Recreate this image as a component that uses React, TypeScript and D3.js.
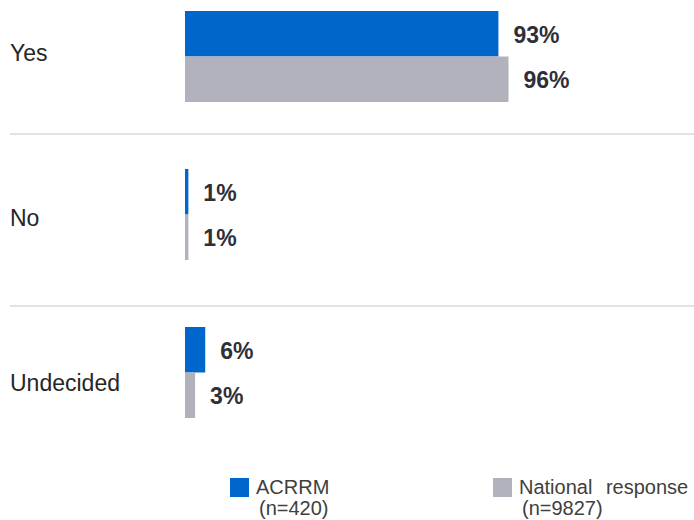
import React from 'react'
import * as d3 from 'd3'

const CATEGORIES = ['Yes', 'No', 'Undecided']
const ACRRM = [93, 1, 6]
const NATIONAL = [96, 1, 3]
const SERIES = [
  { name: 'ACRRM', sub: '(n=420)', values: ACRRM, color: '#0066cc' },
  { name: 'National response', sub: '(n=9827)', values: NATIONAL, color: '#b2b2bc' },
]

const W = 694
const H = 520
const FONT = '"Liberation Sans", Arial, sans-serif'

export default function App() {
  const x = d3.scaleLinear().domain([0, 100]).range([185, 522])

  // bar groups
  const group = d3.scaleBand<string>().domain(CATEGORIES).range([11, 418]).paddingInner(0.424)
  const inner = d3
    .scaleBand<string>()
    .domain(SERIES.map((s) => s.name))
    .range([0, group.bandwidth()])

  // rows separated by thin rules
  const row = d3.scaleLinear().domain([0, CATEGORIES.length]).range([-38, 478])

  const legendX = d3.scalePoint<string>().domain(SERIES.map((s) => s.name)).range([230, 493])

  return (
    <svg
      width={W}
      height={H}
      style={{ position: 'absolute', left: 0, top: 0, background: '#fff' }}
      fontFamily={FONT}
    >
      {/* separators */}
      {d3.range(1, CATEGORIES.length).map((i) => (
        <line key={i} x1={10} x2={W} y1={row(i)} y2={row(i)} stroke="#d9d9d9" strokeWidth={1.5} />
      ))}

      {CATEGORIES.map((c, i) => {
        const gy = group(c)!
        const labelY = (gy + group.bandwidth() / 2 + (row(i) + row(i + 1)) / 2) / 2
        return (
          <g key={c}>
            <text x={10} y={labelY + 1} dy="0.35em" fontSize={23} fill="#262626">
              {c}
            </text>
            {SERIES.map((s) => {
              const v = s.values[i]
              const by = gy + inner(s.name)!
              return (
                <g key={s.name}>
                  <rect
                    x={x(0)}
                    y={by}
                    width={x(v) - x(0)}
                    height={inner.bandwidth()}
                    fill={s.color}
                  />
                  <text
                    x={x(v) + 15}
                    y={by + inner.bandwidth() / 2 + 1}
                    dy="0.35em"
                    fontSize={23}
                    fontWeight="bold"
                    fill="#2f2f37"
                  >
                    {v}%
                  </text>
                </g>
              )
            })}
          </g>
        )
      })}

      {/* legend */}
      {SERIES.map((s) => {
        const lx = legendX(s.name)!
        return (
          <g key={s.name}>
            <rect x={lx} y={478} width={19} height={19} fill={s.color} />
            <text x={lx + 26} y={494} fontSize={20} fill="#404040" wordSpacing={8}>
              {s.name}
            </text>
            <text x={lx + 29} y={515} fontSize={20} fill="#404040">
              {s.sub}
            </text>
          </g>
        )
      })}
    </svg>
  )
}
